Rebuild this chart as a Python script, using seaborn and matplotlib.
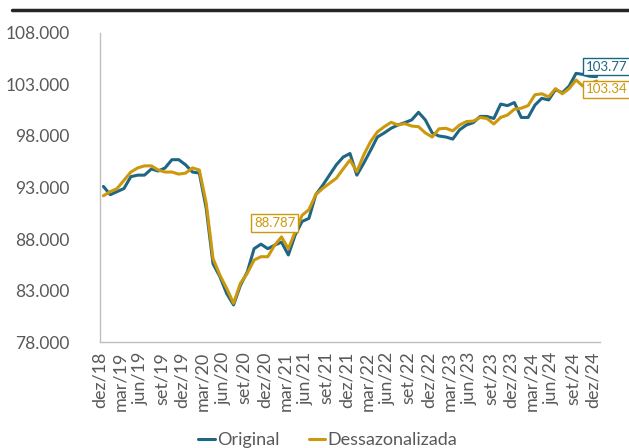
import matplotlib
matplotlib.use("Agg")
import matplotlib.pyplot as plt
from matplotlib.lines import Line2D
import seaborn as sns
import pandas as pd
import numpy as np

# monthly series, dez/18 .. dez/24
original = [
    93.1, 92.3, 92.6, 92.9, 94.05, 94.2, 94.2, 94.8, 94.6, 94.9,
    95.7, 95.7, 95.2, 94.5, 94.4, 91.0, 85.6, 84.35, 82.7, 81.6,
    83.5, 84.8, 87.06, 87.5, 87.06, 87.4, 87.7, 86.45, 88.4, 89.7,
    90.0, 92.3, 93.2, 94.2, 95.2, 95.95, 96.3, 94.2, 95.35, 96.6,
    97.9, 98.3, 98.75, 99.07, 99.3, 99.56, 100.3, 99.56, 98.3, 98.0,
    97.9, 97.7, 98.6, 99.07, 99.3, 99.9, 99.9, 99.7, 101.1, 100.95,
    101.25, 99.8, 99.8, 101.0, 101.66, 101.5, 102.5, 102.2, 102.85, 104.08,
    103.98, 103.8, 103.77,
]
dessaz = [
    92.2, 92.6, 92.9, 93.7, 94.5, 94.9, 95.1, 95.1, 94.7, 94.5,
    94.5, 94.3, 94.4, 94.9, 94.7, 91.5, 86.1, 84.5, 83.2, 81.76,
    83.7, 84.67, 85.96, 86.28, 86.28, 87.4, 88.2, 87.06, 88.7, 90.3,
    90.85, 92.3, 92.9, 93.4, 93.9, 94.8, 95.67, 94.54, 96.16, 97.45,
    98.4, 98.9, 99.33, 99.07, 99.2, 98.97, 98.9, 98.3, 97.9, 98.7,
    98.75, 98.5, 99.07, 99.4, 99.45, 99.8, 99.7, 99.17, 99.8, 100.04,
    100.6, 100.7, 100.95, 102.0, 102.1, 101.8, 102.6, 102.1, 102.6, 103.44,
    102.85, 103.05, 103.34,
]
tick_months = ["dez", "mar", "jun", "set"]
tick_years = [18, 19, 19, 19, 19, 20, 20, 20, 20, 21, 21, 21, 21,
              22, 22, 22, 22, 23, 23, 23, 23, 24, 24, 24, 24]
tick_labels = [f"{tick_months[i % 4]}/{y}" for i, y in enumerate(tick_years)]
y_ticks = [78, 83, 88, 93, 98, 103, 108]
series_names = ["Original", "Dessazonalizada"]
label_texts = ["103.77", "103.34", "88.787"]

blue = "#1E6684"
gold = "#CC980C"
grey_txt = "#595959"
grey_axis = "#BFBFBF"

n = len(original)
df = pd.DataFrame({
    "mes": list(range(n)) * 2,
    "valor": original + dessaz,
    "serie": [series_names[0]] * n + [series_names[1]] * n,
})

sns.set_style("white")
plt.rcParams["font.family"] = ["Lato", "DejaVu Sans"]

fig = plt.figure(figsize=(6.29, 4.48), dpi=100)
ax = fig.add_axes([100 / 629, 1 - 342 / 448, 500 / 629, 309 / 448])

sns.lineplot(data=df, x="mes", y="valor", hue="serie",
             palette=[blue, gold], linewidth=2.2, ax=ax)

ax.set_xlim(-0.5, n - 0.5)
ax.set_ylim(78, 108)
ax.set_xticks(np.arange(len(tick_labels)) * 3 - 0.5)
ax.set_xticklabels(tick_labels, rotation=90, fontsize=13, color=grey_txt)
ax.set_yticks(y_ticks)
ax.set_yticklabels([f"{v}.000" for v in y_ticks], fontsize=12.5, color=grey_txt)
ax.set_xlabel("")
ax.set_ylabel("")

for s in ["top", "right"]:
    ax.spines[s].set_visible(False)
for s in ["left", "bottom"]:
    ax.spines[s].set_color(grey_axis)
    ax.spines[s].set_linewidth(1.0)
ax.tick_params(axis="both", direction="out", length=5, width=1.0,
               color=grey_axis)
ax.tick_params(axis="y", pad=17)
ax.tick_params(axis="x", pad=2)

# data labels
box = dict(boxstyle="square,pad=0.2", fc="white", lw=1.0)
ax.annotate(label_texts[0], (n - 1, original[-1]), xytext=(-8, 7),
            textcoords="offset points", fontsize=9.5, color=blue,
            ha="left", va="center", annotation_clip=False,
            bbox={**box, "ec": blue})
ax.annotate(label_texts[1], (n - 1, dessaz[-1]), xytext=(-8, -6),
            textcoords="offset points", fontsize=9.5, color=gold,
            ha="left", va="center", annotation_clip=False,
            bbox={**box, "ec": gold})
ax.annotate(label_texts[2], (26, dessaz[26]), xytext=(-5, 10),
            textcoords="offset points", fontsize=9.5, color=gold,
            ha="center", va="center", bbox={**box, "ec": gold})

sns.move_legend(ax, "center", bbox_to_anchor=(0.456, -0.317), ncol=2,
                frameon=False, title=None, fontsize=13, handlelength=0.9,
                handletextpad=0.15, columnspacing=1.6)
for t in ax.get_legend().get_texts():
    t.set_color(grey_txt)

# header rule
fig.add_artist(Line2D([12 / 629, 1], [1 - 10 / 448] * 2, color="#262626", lw=2.5))

fig.savefig("out.png", dpi=100)
